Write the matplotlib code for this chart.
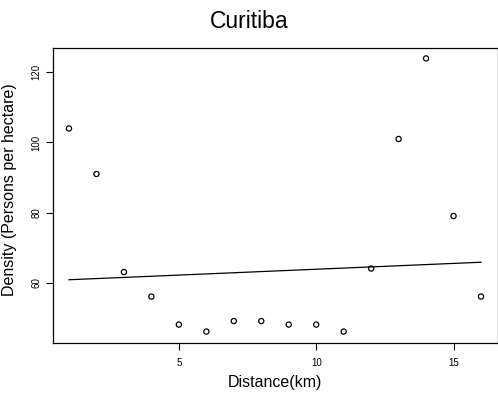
import matplotlib
matplotlib.use("Agg")
import matplotlib.pyplot as plt
import numpy as np

plt.rcParams["font.family"] = ["Liberation Sans", "DejaVu Sans"]

distance = [1, 2, 3, 4, 5, 6, 7, 8, 9, 10, 11, 12, 13, 14, 15, 16]
density = [104, 91, 63, 56, 48, 46, 49, 49, 48, 48, 46, 64, 101, 124, 79, 56]

# fitted line as drawn (ends at first and last distance)
fit_x = [1, 16]
fit_y = [60.8, 65.8]

xticks = [5, 10, 15]
yticks = [60, 80, 100, 120]

W, H = 498, 401
fig = plt.figure(figsize=(W / 100, H / 100), dpi=100)
ax = fig.add_axes([52.5 / W, 1 - 342.5 / H, 445 / W, 295 / H])

ax.scatter(distance, density, s=14, facecolors="none", edgecolors="black", linewidths=0.9)
ax.plot(fit_x, fit_y, color="black", linewidth=0.9)

xr = max(distance) - min(distance)
yr = max(density) - min(density)
ax.set_xlim(min(distance) - 0.04 * xr, max(distance) + 0.04 * xr)
ax.set_ylim(min(density) - 0.04 * yr, max(density) + 0.04 * yr)

ax.set_xticks(xticks)
ax.set_yticks(yticks)
ax.tick_params(axis="both", direction="out", length=5, width=0.8, labelsize=7)
ax.tick_params(axis="x", pad=6)
ax.tick_params(axis="y", pad=3)
for lbl in ax.get_yticklabels():
    lbl.set_rotation(90)
    lbl.set_va("center")

for sp in ax.spines.values():
    sp.set_linewidth(0.9)

ax.set_xlabel("Distance(km)", fontsize=11.5)
ax.xaxis.set_label_coords(0.5, -(375 - 342.5) / 295)
ax.set_ylabel("Density (Persons per hectare)", fontsize=11.5)
ax.yaxis.set_label_coords(-(52.5 - 17) / 445, 1 - (190 - 47.5) / 295)
fig.text(0.5, 1 - 21 / H, "Curitiba", ha="center", va="center", fontsize=16.5)

fig.savefig("out.png", dpi=100)
